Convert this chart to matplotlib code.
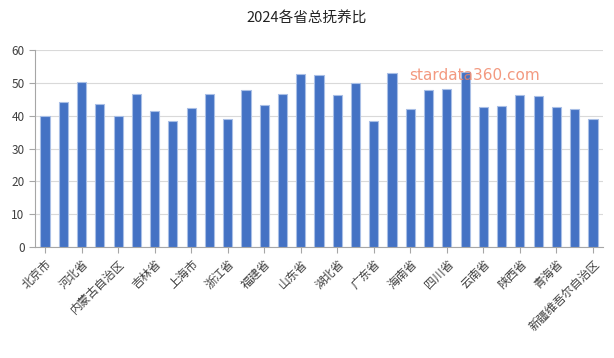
import matplotlib
matplotlib.use("Agg")
import matplotlib.pyplot as plt
import numpy as np

plt.rcParams['font.family'] = ['Noto Sans CJK SC', 'DejaVu Sans']

provinces = ["北京市", "天津市", "河北省", "山西省", "内蒙古自治区", "辽宁省", "吉林省", "黑龙江省",
             "上海市", "江苏省", "浙江省", "安徽省", "福建省", "江西省", "山东省", "河南省",
             "湖北省", "湖南省", "广东省", "广西壮族自治区", "海南省", "重庆市", "四川省", "贵州省",
             "云南省", "西藏自治区", "陕西省", "甘肃省", "青海省", "宁夏回族自治区", "新疆维吾尔自治区"]
values = [39.8, 44.3, 50.2, 43.6, 39.9, 46.6, 41.5, 38.5,
          42.4, 46.7, 38.9, 47.8, 43.2, 46.7, 52.8, 52.5,
          46.2, 49.9, 38.4, 53.1, 42.1, 47.9, 48.1, 53.3,
          42.7, 43.0, 46.3, 46.1, 42.7, 42.1, 38.9]
yticks = [0, 10, 20, 30, 40, 50, 60]

fig = plt.figure(figsize=(6.14, 3.58), dpi=100)
ax = fig.add_axes([35/614, 1-247/358, (603-35)/614, (247-50)/358])

x = np.arange(len(provinces))
ax.bar(x, values, width=0.5, color="#4472C4", edgecolor="#A9BFE6", linewidth=0.8, zorder=3)

ax.set_xlim(-0.55, len(provinces) - 0.45)
ax.set_ylim(0, 60)
ax.set_yticks(yticks)
ax.yaxis.grid(True, color="#D9D9D9", linewidth=0.8, zorder=0)
ax.set_axisbelow(True)

ax.set_xticks(x[::2])
ax.set_xticklabels(provinces[::2], rotation=45, ha="right", rotation_mode="anchor",
                   fontsize=8.5, color="#404040")
ax.tick_params(axis="y", labelsize=8.5, colors="#404040", length=4, color="#A6A6A6")
ax.tick_params(axis="x", length=4, color="#A6A6A6")

for s in ["top", "right"]:
    ax.spines[s].set_visible(False)
ax.spines["left"].set_color("#A6A6A6")
ax.spines["bottom"].set_color("#A6A6A6")

fig.text(0.5, 1-18/358, "2024各省总抚养比", ha="center", va="center", fontsize=10.5, color="#222222")
fig.text(475/614, 1-76/358, "stardata360.com", ha="center", va="center", fontsize=11,
         color="#F08060", alpha=0.8, family=["DejaVu Sans"])

fig.savefig("out.png", dpi=100)
